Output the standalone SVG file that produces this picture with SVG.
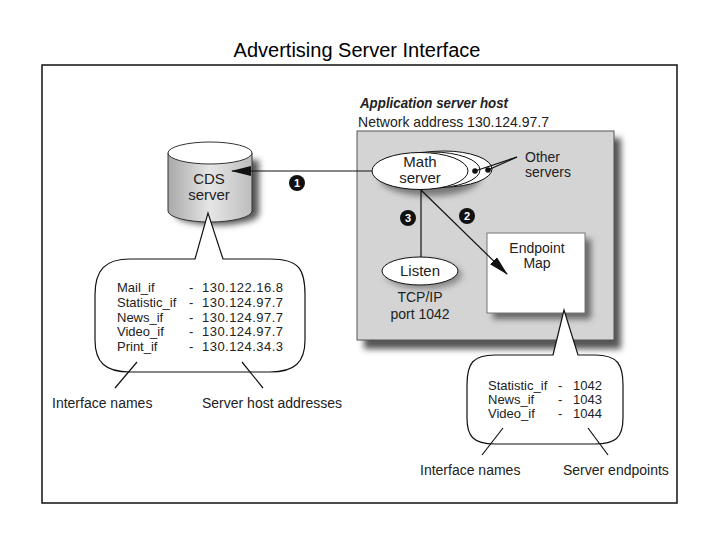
<svg xmlns="http://www.w3.org/2000/svg" width="720" height="540" viewBox="0 0 720 540">
<style>
text{font-family:"Liberation Sans",Arial,sans-serif;fill:#222}
.t{font-size:15px;text-anchor:middle}
.s{font-size:14px}
.r{font-size:13px}
.ln{stroke:#111;stroke-width:1.2;fill:none}
.num{fill:#111}
.nt{font-size:11px;font-weight:bold;fill:#fff;text-anchor:middle}
</style>
<defs>
<filter id="sh" x="-20%" y="-20%" width="150%" height="150%"><feGaussianBlur stdDeviation="3"/></filter>
<linearGradient id="cyl" x1="0" x2="1" y1="0" y2="0">
<stop offset="0" stop-color="#a9a9a9"/><stop offset="0.5" stop-color="#e6e6e6"/><stop offset="1" stop-color="#bdbdbd"/>
</linearGradient>
<marker id="ah" viewBox="0 0 20 10" refX="19" refY="5" markerWidth="20" markerHeight="10" markerUnits="userSpaceOnUse" orient="auto">
<path d="M0,0 L20,5 L0,10 Z" fill="#111"/>
</marker>
</defs>
<rect width="720" height="540" fill="#fff"/>
<text x="357" y="57" style="font-size:20px;text-anchor:middle;fill:#000">Advertising Server Interface</text>
<rect x="42" y="65" width="635" height="438" fill="none" stroke="#111" stroke-width="1.5"/>

<g id="app-host">
<rect x="364" y="138" width="257" height="211" fill="#555" filter="url(#sh)"/>
<rect x="357" y="131" width="257" height="209" fill="#d4d4d4" stroke="#555" stroke-width="1"/>
<text x="360" y="108" style="font-size:14px;font-weight:bold;font-style:italic" textLength="148" lengthAdjust="spacingAndGlyphs">Application server host</text>
<text x="358" y="127" style="font-size:15px" textLength="191" lengthAdjust="spacingAndGlyphs">Network address 130.124.97.7</text>
</g>

<g id="cds-server">
<path d="M175,160 v54 a42,11 0 0 0 84,0 v-54 z" fill="#555" filter="url(#sh)"/>
<path d="M168,153 v58 a42,11 0 0 0 84,0 v-58 z" fill="url(#cyl)" stroke="#333" stroke-width="1"/>
<ellipse cx="210" cy="153" rx="42" ry="11" fill="#fff" stroke="#333" stroke-width="1"/>
<text class="t" x="209" y="184">CDS</text>
<text class="t" x="209" y="200">server</text>
</g>

<g id="math-server">
<ellipse cx="430" cy="178" rx="50" ry="18" fill="#777" filter="url(#sh)"/>
<ellipse cx="444" cy="169" rx="48" ry="18" fill="#fff" stroke="#111"/>
<ellipse cx="432" cy="170" rx="48" ry="18" fill="#fff" stroke="#111"/>
<ellipse cx="420" cy="171" rx="48" ry="18.5" fill="#fff" stroke="#111"/>
<circle cx="475" cy="171" r="2.8" fill="#111"/>
<circle cx="488" cy="170" r="2.8" fill="#111"/>
<text class="t" x="420" y="167">Math</text>
<text class="t" x="420" y="183">server</text>
</g>

<g id="other-servers">
<text x="525" y="162" style="font-size:14px">Other</text>
<text x="525" y="177" style="font-size:14px">servers</text>
</g>

<g id="listen">
<ellipse cx="424" cy="275" rx="38" ry="14" fill="#888" filter="url(#sh)"/>
<ellipse cx="420" cy="271" rx="38" ry="14" fill="#fff" stroke="#111"/>
<text class="t" x="420" y="276">Listen</text>
<text class="t" x="420" y="302" style="font-size:14px">TCP/IP</text>
<text class="t" x="420" y="319" style="font-size:14px">port 1042</text>
</g>

<g id="endpoint-map">
<rect x="493" y="239" width="98" height="80" fill="#666" filter="url(#sh)"/>
<rect x="487" y="233" width="98" height="80" fill="#fff" stroke="#777"/>
<text class="t" x="537" y="253" style="font-size:14px">Endpoint</text>
<text class="t" x="537" y="268" style="font-size:14px">Map</text>
</g>

<g id="cds-bubble">
<path d="M195,259 L208,213 L223,259 H270 C300,259 305,270 305,295 V340 C305,362 295,372 270,372 H130 C105,372 95,362 95,340 V295 C95,270 105,259 130,259 Z" fill="#fff" stroke="#111" stroke-width="1.2"/>
<text class="r" x="117" y="292">Mail_if</text>
<text class="r" x="117" y="306.7">Statistic_if</text>
<text class="r" x="117" y="321.5">News_if</text>
<text class="r" x="117" y="336.2">Video_if</text>
<text class="r" x="117" y="351">Print_if</text>
<text class="r" x="189" y="292">-</text>
<text class="r" x="189" y="306.7">-</text>
<text class="r" x="189" y="321.5">-</text>
<text class="r" x="189" y="336.2">-</text>
<text class="r" x="189" y="351">-</text>
<text class="r" x="202" y="292" textLength="81">130.122.16.8</text>
<text class="r" x="202" y="306.7" textLength="81">130.124.97.7</text>
<text class="r" x="202" y="321.5" textLength="81">130.124.97.7</text>
<text class="r" x="202" y="336.2" textLength="81">130.124.97.7</text>
<text class="r" x="202" y="351" textLength="81">130.124.34.3</text>
<text class="s" x="52" y="408">Interface names</text>
<text class="s" x="202" y="408">Server host addresses</text>
</g>

<g id="endpoint-bubble">
<path d="M553,355 L564,310 L578,355 H595 C618,355 623,365 623,385 V418 C623,438 615,444 595,444 H495 C473,444 467,436 467,418 V385 C467,363 473,355 495,355 Z" fill="#fff" stroke="#111" stroke-width="1.2"/>
<text class="r" x="488" y="390">Statistic_if</text>
<text class="r" x="488" y="404">News_if</text>
<text class="r" x="488" y="418">Video_if</text>
<text class="r" x="558" y="390">-</text>
<text class="r" x="558" y="404">-</text>
<text class="r" x="558" y="418">-</text>
<text class="r" x="573" y="390">1042</text>
<text class="r" x="573" y="404">1043</text>
<text class="r" x="573" y="418">1044</text>
<text class="s" x="420" y="475">Interface names</text>
<text class="s" x="563" y="475">Server endpoints</text>
</g>

<g id="connectors">
<line class="ln" x1="372" y1="171" x2="232" y2="171" marker-end="url(#ah)"/>
<line class="ln" x1="421" y1="190" x2="507" y2="274" marker-end="url(#ah)"/>
<line class="ln" x1="421" y1="190" x2="421" y2="257"/>
<line class="ln" x1="517" y1="157" x2="488" y2="170" stroke-width="0.9"/>
<line class="ln" x1="517" y1="157" x2="475" y2="171" stroke-width="0.9"/>
<line class="ln" x1="137" y1="362" x2="115" y2="388"/>
<line class="ln" x1="242" y1="362" x2="263" y2="388"/>
<line class="ln" x1="503" y1="428" x2="482" y2="455"/>
<line class="ln" x1="588" y1="428" x2="608" y2="455"/>
<circle class="num" cx="297" cy="183" r="8"/><text class="nt" x="297" y="187">1</text>
<circle class="num" cx="467" cy="216" r="8"/><text class="nt" x="467" y="220">2</text>
<circle class="num" cx="408" cy="218" r="8"/><text class="nt" x="408" y="222">3</text>
</g>
</svg>
